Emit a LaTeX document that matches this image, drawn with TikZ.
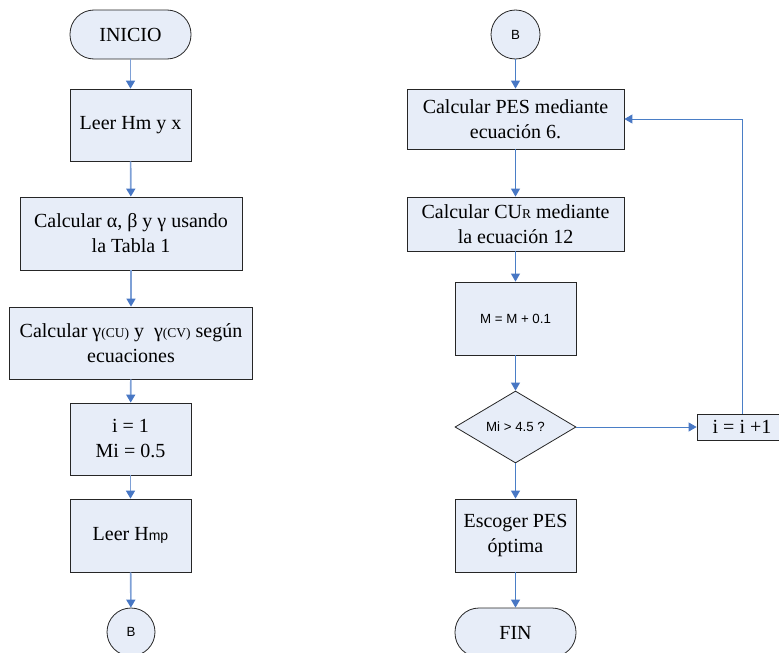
\documentclass[tikz,border=0pt]{standalone}
\usepackage{fontspec}
\setmainfont{Liberation Serif}
\newfontfamily\arialf{Liberation Sans}
\usetikzlibrary{arrows.meta,shapes.geometric}
\definecolor{boxfill}{RGB}{231,237,248}
\definecolor{lineblueA}{RGB}{126,160,214}
\definecolor{lineblueB}{RGB}{74,126,198}
\definecolor{tipblue}{RGB}{72,119,196}
\newcommand{\sm}[1]{{\fontsize{13.5}{14}\selectfont #1}}
\newcommand{\ar}[1]{{\arialf\fontsize{13.3}{15}\selectfont #1}}
\begin{document}
\begin{tikzpicture}[x=1pt,y=1pt,
  base/.style={draw=black!85, line width=0.8pt, fill=boxfill, inner sep=0pt, align=center,
    font=\fontsize{20}{25}\selectfont},
  box/.style={base, rectangle},
  term/.style={base, rectangle, rounded corners=24pt},
  conn/.style={base, circle, font=\arialf\fontsize{13.3}{15}\selectfont},
  dec/.style={base, diamond, font=\arialf\fontsize{13.3}{15}\selectfont},
  arrL/.style={draw=lineblueA, line width=1.6pt, -{Triangle[width=9pt,length=8pt,color=tipblue]}},
  arrR/.style={draw=lineblueB, line width=0.9pt, -{Triangle[width=9pt,length=8pt,color=tipblue]}}]
\useasboundingbox (0,0) rectangle (779,-653);
\begin{scope}
\clip (0,0) rectangle (779,-653);
% left column
\node[term, minimum width=121pt, minimum height=49pt] (ini) at (130.5,-34.5) {INICIO};
\node[box, minimum width=121pt, minimum height=72pt] (leer) at (130.5,-125) {Leer Hm y x};
\node[box, minimum width=222pt, minimum height=73pt] (abg) at (131,-233.5) {Calcular α, β y γ usando\\la Tabla 1};
\node[box, minimum width=243pt, minimum height=72pt] (gam) at (131,-343) {Calcular γ\sm{(CU)} y\ \ γ\sm{(CV)} según\\ecuaciones};
\node[box, minimum width=121pt, minimum height=72pt] (init) at (130.5,-439) {i = 1\\Mi = 0.5};
\node[box, minimum width=121pt, minimum height=73pt] (hmp) at (130.5,-535.5) {Leer H\ar{\fontsize{14}{15}\selectfont mp}};
\node[conn, minimum size=48pt] (b1) at (131,-632) {B};
\draw[arrL] (ini) -- (leer);
\draw[arrL] (leer) -- (abg);
\draw[arrL] (abg) -- (gam);
\draw[arrL] (gam) -- (init);
\draw[arrL] (init) -- (hmp);
\draw[arrL] (hmp) -- (b1);
% right column
\node[conn, minimum size=49pt] (b2) at (515.5,-34.5) {B};
\node[box, minimum width=217pt, minimum height=60pt] (pes) at (515.5,-119) {Calcular PES mediante\\ecuación 6.};
\node[box, minimum width=217pt, minimum height=54pt] (cur) at (515.5,-224) {Calcular CU\sm{R} mediante\\la ecuación 12};
\node[box, minimum width=121pt, minimum height=73pt, font=\arialf\fontsize{13.3}{15}\selectfont] (mm) at (515.5,-318.5) {M = M + 0.1};
\node[dec, minimum width=121pt, minimum height=72pt] (mi) at (515.5,-427) {Mi > 4.5 ?};
\node[box, minimum width=90pt, minimum height=26pt] (inc) at (742,-427) {i = i +1};
\node[box, minimum width=121pt, minimum height=73pt] (esc) at (515.5,-535.5) {Escoger PES\\óptima};
\node[term, minimum width=121pt, minimum height=49pt] (fin) at (515.5,-632.5) {FIN};
\draw[arrR] (b2) -- (pes);
\draw[arrR] (pes) -- (cur);
\draw[arrR] (cur) -- (mm);
\draw[arrR] (mm) -- (mi);
\draw[arrR] (mi) -- (esc);
\draw[arrR] (esc) -- (fin);
\draw[arrR] (mi.east) -- (inc.west);
\draw[arrR] (inc.north) |- (pes.east);
\end{scope}
\end{tikzpicture}
\end{document}
